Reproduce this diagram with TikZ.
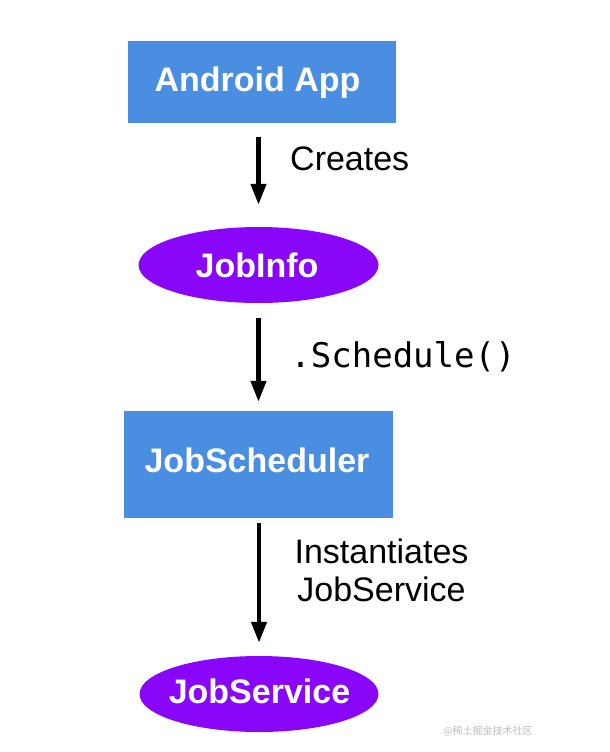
\documentclass[tikz,border=0pt]{standalone}
\usepackage{fontspec}
\setmainfont{Liberation Sans}
\setmonofont{DejaVu Sans Mono}
\newfontfamily\cjkfont{Noto Sans CJK SC}
\usetikzlibrary{shapes.geometric,arrows.meta}
\definecolor{boxblue}{RGB}{74,142,226}
\definecolor{ovalpurple}{RGB}{137,6,248}
\definecolor{wmgray}{RGB}{190,190,190}
\tikzset{
  bluebox/.style={draw=none, fill=boxblue, inner sep=0pt},
  purpleoval/.style={ellipse, draw=none, fill=ovalpurple, inner sep=0pt, minimum width=240pt, minimum height=76pt},
  whitetext/.style={text=white, font=\fontsize{34}{40}\selectfont\bfseries, inner sep=0pt},
  labeltext/.style={text=black, font=\fontsize{34}{40}\selectfont, inner sep=0pt},
  codetext/.style={text=black, font=\fontsize{34}{40}\selectfont\ttfamily, inner sep=0pt},
  flowarrow/.style={draw=black, line width=4.5pt, -{Triangle[length=21pt,width=15pt]}}
}
\begin{document}
\begin{tikzpicture}[x=1pt,y=-1pt]
\useasboundingbox (0,0) rectangle (610,752);
% boxes and ovals
\node[bluebox, minimum width=268pt, minimum height=82pt] (app) at (262,82) {};
\node[whitetext, anchor=base] (apptext) at (257.5,91) {Android App};
\node[purpleoval] (info) at (258.5,265) {};
\node[whitetext, anchor=base] (infotext) at (257,277) {JobInfo};
\node[bluebox, minimum width=269pt, minimum height=107pt] (sched) at (258.5,464.5) {};
\node[whitetext, anchor=base] (schedtext) at (257,472) {JobScheduler};
\node[purpleoval, minimum width=239pt] (serv) at (259,694) {};
\node[whitetext, anchor=base] (servtext) at (259.5,703) {JobService};
% connectors
\draw[flowarrow, shorten <=14pt, shorten >=22pt] (info.north |- app.south) -- (info.north);
\draw[flowarrow, shorten <=15pt, shorten >=9pt] (info.south) -- (sched.north -| info.south);
\draw[flowarrow, shorten <=5pt, shorten >=13pt] (sched.south -| serv.north) -- (serv.north);
% labels
\node[labeltext, anchor=base west] (creates) at (290,170) {Creates};
\node[codetext, anchor=base] (schedule) at (403,367) {.Schedule()};
\node[labeltext, anchor=base] (inst1) at (381.5,563) {Instantiates};
\node[labeltext, anchor=base] (inst2) at (381.5,601) {JobService};
% watermark
\node[text=wmgray, font=\fontsize{10}{12}\selectfont\cjkfont, anchor=west, inner sep=0pt] (wm) at (443,731) {@稀土掘金技术社区};
\end{tikzpicture}
\end{document}
